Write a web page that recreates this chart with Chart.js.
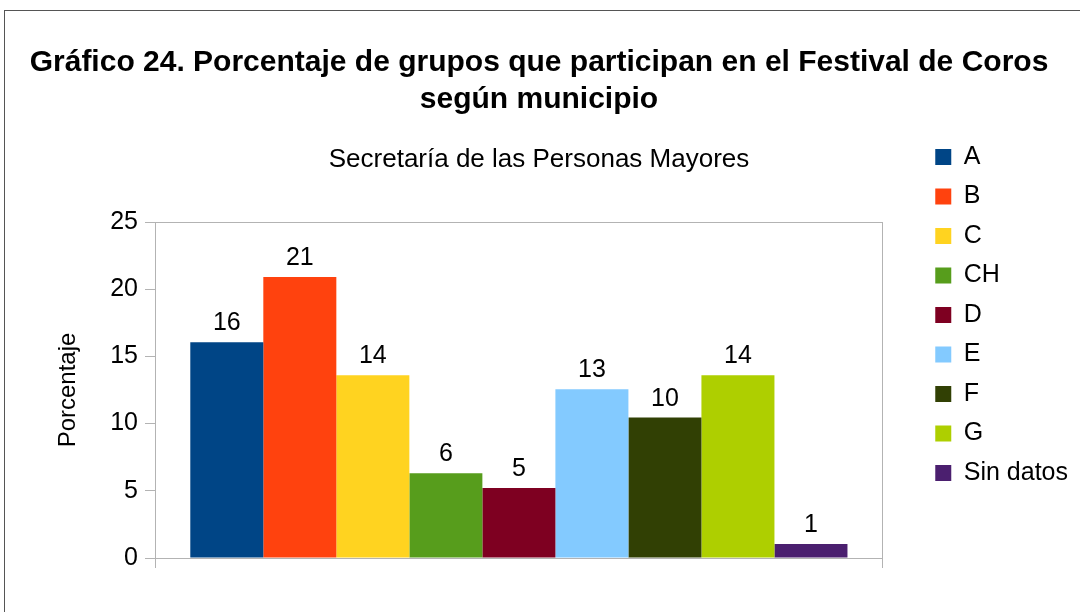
<!DOCTYPE html>
<html>
<head>
<meta charset="utf-8">
<script src="https://cdn.jsdelivr.net/npm/chart.js@4/dist/chart.umd.min.js"></script>
<style>
  html, body { margin: 0; padding: 0; background: #fff; overflow: hidden; }
  #frame { position: absolute; left: 4px; top: 10px; width: 2000px; height: 2000px; border: 1px solid #555; }
  #wrap { position: absolute; left: 0; top: 0; width: 1080px; height: 612px; }
</style>
</head>
<body>
<div id="frame"></div>
<div id="wrap"><canvas id="coros"></canvas></div>
<script>
// municipios y porcentajes
const municipios = ['A', 'B', 'C', 'CH', 'D', 'E', 'F', 'G', 'Sin datos'];
const porcentajes = [16.05, 20.9, 13.6, 6.3, 5.2, 12.55, 10.45, 13.6, 1.05];
const colores = ['#004586', '#ff420e', '#ffd320', '#579d1c', '#7e0021', '#83caff', '#314004', '#aecf00', '#4b1f6f'];
const categoria = ['Secretaría de las Personas Mayores'];
const yTicks = [0, 5, 10, 15, 20, 25];

const FONT = 'Liberation Sans, Arial, sans-serif';
const gris = '#b3b3b3';

// etiquetas de valor encima de cada barra
const valueLabels = {
    id: 'valueLabels',
    afterDatasetsDraw(chart) {
        const ctx = chart.ctx;
        ctx.save();
        ctx.font = '25px ' + FONT;
        ctx.fillStyle = '#000';
        ctx.textAlign = 'center';
        ctx.textBaseline = 'alphabetic';
        chart.data.datasets.forEach((ds, i) => {
            chart.getDatasetMeta(i).data.forEach((bar, j) => {
                ctx.fillText(Math.round(ds.data[j]), bar.x, bar.y - 12);
            });
        });
        ctx.restore();
    }
};

const datasets = municipios.map((m, i) => ({
    label: m,
    data: [porcentajes[i]],
    backgroundColor: colores[i],
    borderWidth: 0,
    categoryPercentage: 0.903,
    barPercentage: 1.0
}));

new Chart(document.getElementById('coros'), {
    type: 'bar',
    data: { labels: [''], datasets: datasets },
    plugins: [valueLabels],
    options: {
        responsive: true,
        maintainAspectRatio: false,
        animation: false,
        layout: { padding: { top: 0, right: 2, bottom: 44, left: 0 } },
        plugins: {
            title: {
                display: true,
                text: ['Gráfico 24. Porcentaje de grupos que participan en el Festival de Coros', 'según municipio'],
                color: '#000',
                font: { family: FONT, size: 30, weight: 'bold', lineHeight: 1.23 },
                padding: { top: 44, bottom: 0 }
            },
            subtitle: {
                display: true,
                text: categoria[0],
                color: '#000',
                font: { family: FONT, size: 26, lineHeight: 1.2 },
                padding: { top: 26, bottom: 27 }
            },
            legend: {
                position: 'right',
                align: 'start',
                title: { display: true, text: '', font: { size: 10, lineHeight: 1 }, padding: { top: 120, bottom: 0 } },
                labels: {
                    color: '#000',
                    font: { family: FONT, size: 25 },
                    boxWidth: 16,
                    boxHeight: 16,
                    padding: 14.5
                }
            },
            tooltip: { enabled: false }
        },
        scales: {
            x: {
                offset: true,
                grid: { color: gris, offset: true, tickLength: 10 },
                border: { color: gris },
                ticks: { display: false }
            },
            xTop: {
                position: 'top',
                labels: [''],
                grid: { display: false },
                border: { color: gris },
                ticks: { display: false },
                afterFit: (axis) => { axis.height = 20; }
            },
            y: {
                min: 0,
                max: 25,
                afterBuildTicks: (axis) => { axis.ticks = yTicks.map(v => ({ value: v })); },
                grid: { color: gris, drawOnChartArea: false, tickLength: 10 },
                border: { color: gris },
                ticks: { color: '#000', font: { family: FONT, size: 25 }, padding: 7 },
                title: {
                    display: true,
                    text: 'Porcentaje',
                    color: '#000',
                    font: { family: FONT, size: 24 },
                    padding: { top: 54, bottom: 0 }
                },
                afterFit: (axis) => { axis.width = 155; }
            },
            yRight: {
                position: 'right',
                display: true,
                grid: { display: false },
                border: { display: false },
                ticks: { display: false },
                afterFit: (axis) => { axis.width = 38; }
            }
        }
    }
});
</script>
</body>
</html>
